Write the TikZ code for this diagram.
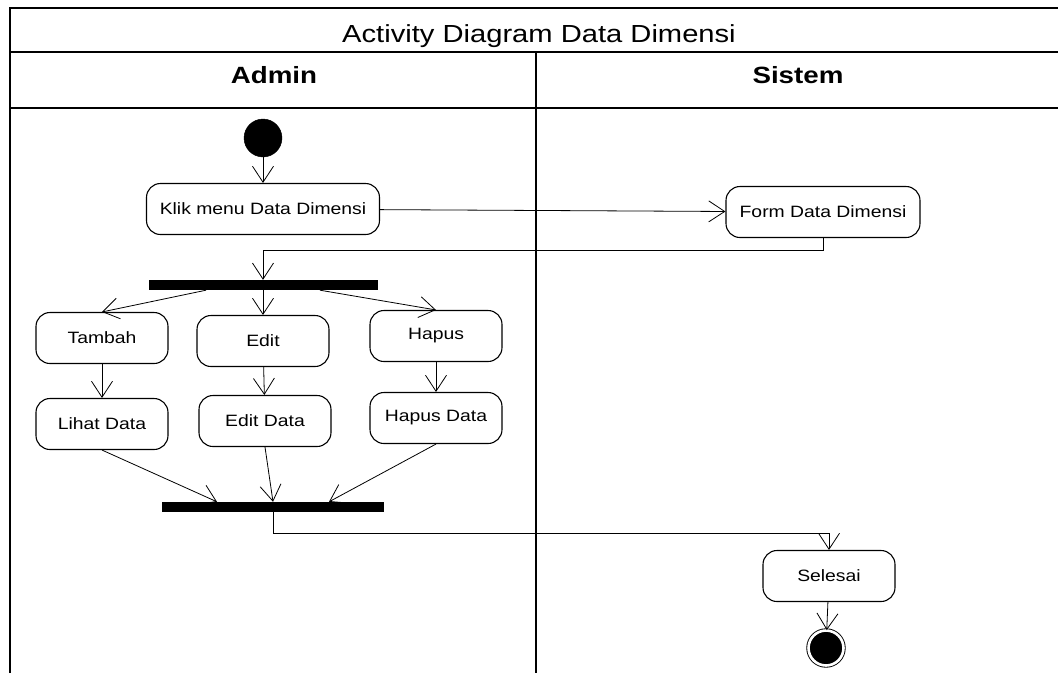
\documentclass[tikz,border=0pt]{standalone}
\usepackage{fontspec}
\setmainfont{Liberation Sans}[FakeStretch=1.18]
\usetikzlibrary{arrows.meta,calc}

\begin{document}
\begin{tikzpicture}[x=1pt, y=-1pt,
  actnode/.style={draw, rounded corners=14pt, line width=1.1pt, minimum width=132pt, minimum height=51pt, font=\fontsize{16.4}{18}\selectfont},
  barnode/.style={fill=black, inner sep=0pt, minimum height=10pt},
  startnode/.style={circle, draw, fill=black, inner sep=0pt, minimum size=38pt},
  endnode/.style={circle, draw, fill=black, inner sep=0pt, minimum size=35pt, line width=0.9pt, double=white, double distance=2.6pt},
  flow/.style={line width=0.8pt, -{Straight Barb[length=16pt,width=21pt]}},
  lane/.style={line width=1.6pt}]
\useasboundingbox (0,0) rectangle (1058,673);
% swimlanes
\draw[lane] (10,673) -- (10,8) -- (1058,8);
\draw[lane] (10,52) -- (1058,52);
\draw[lane] (10,108) -- (1058,108);
\draw[lane] (536,52) -- (536,673);
\node[anchor=base, font=\fontsize{24.7}{28}\selectfont] (title) at (539,42) {Activity Diagram Data Dimensi};
\node[anchor=base, font=\bfseries\fontsize{23.5}{28}\selectfont] (admin) at (274,83) {Admin};
\node[anchor=base, font=\bfseries\fontsize{23.5}{28}\selectfont] (sistem) at (798,83) {Sistem};
% activities
\node[startnode] (start) at (263,138) {};
\node[actnode, minimum width=233pt] (klik) at (263,209) {Klik menu Data Dimensi};
\node[actnode, minimum width=194pt] (form) at (823,212) {Form Data Dimensi};
\node[barnode, minimum width=229pt] (fork) at (263,285) {};
\node[actnode] (tambah) at (102,338) {Tambah};
\node[actnode] (edit) at (263,341) {Edit};
\node[actnode] (hapus) at (436,336) {Hapus};
\node[actnode] (lihatdata) at (102,424) {Lihat Data};
\node[actnode] (editdata) at (265,421) {Edit Data};
\node[actnode] (hapusdata) at (436,418) {Hapus Data};
\node[barnode, minimum width=222pt] (join) at (273,507) {};
\node[actnode] (selesai) at (829,576) {Selesai};
\node[endnode] (finish) at (826,648) {};
% flows
\draw[flow] (start) -- (klik);
\draw[flow] (klik) -- (form);
\draw[flow] (form.south) -- ++(0,12) -| (fork.north);
\draw[flow] ($(fork.south)+(-57,0)$) -- (tambah.north);
\draw[flow] (fork) -- (edit);
\draw[flow] ($(fork.south)+(57,0)$) -- (hapus.north);
\draw[flow] (tambah) -- (lihatdata);
\draw[flow] (edit) -- (editdata);
\draw[flow] (hapus) -- (hapusdata);
\draw[flow] (lihatdata.south) -- ($(join.north)+(-56,0)$);
\draw[flow] (editdata.south) -- (join.north);
\draw[flow] (hapusdata.south) -- ($(join.north)+(56,0)$);
\draw[flow] (join.south) -- ++(0,21) -| (selesai.north);
\draw[flow] (selesai) -- (finish);
\end{tikzpicture}
\end{document}
